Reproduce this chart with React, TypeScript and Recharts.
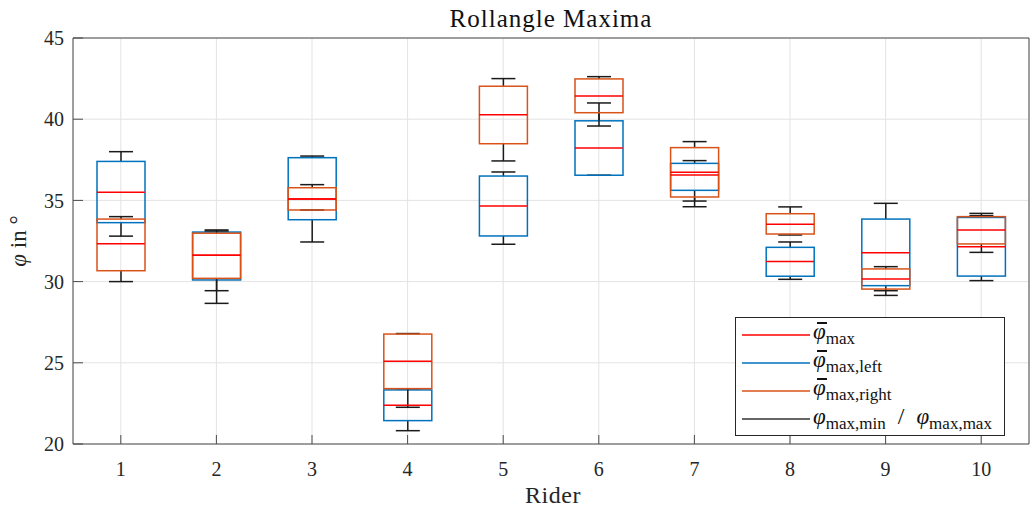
import React from 'react';
import { ComposedChart, Bar, Scatter, XAxis, YAxis, CartesianGrid, Legend } from 'recharts';

const riders = [1, 2, 3, 4, 5, 6, 7, 8, 9, 10];

// left side (blue boxes)
const leftMin = [32.8, 28.66, 32.44, 20.82, 32.3, 36.55, 34.96, 30.14, 29.44, 30.06];
const leftQ1 = [33.63, 30.1, 33.81, 21.44, 32.81, 36.55, 35.62, 30.33, 29.75, 30.34];
const leftMed = [35.5, 31.62, 35.09, 22.38, 34.66, 38.23, 36.56, 31.23, 31.78, 32.15];
const leftQ3 = [37.4, 33.05, 37.63, 23.33, 36.5, 39.9, 37.28, 32.11, 33.85, 33.95];
const leftMax = [38.0, 33.18, 37.73, 23.39, 36.75, 41.0, 37.45, 32.44, 34.82, 34.06];

// right side (orange boxes)
const rightMin = [30.0, 29.44, 34.41, 22.26, 37.43, 39.58, 34.61, 32.87, 29.15, 31.8];
const rightQ1 = [30.67, 30.2, 34.41, 23.41, 38.49, 40.4, 35.21, 32.93, 29.54, 32.32];
const rightMed = [32.33, 31.62, 35.09, 25.09, 40.28, 41.43, 36.73, 33.53, 30.16, 33.18];
const rightQ3 = [33.85, 32.98, 35.78, 26.77, 42.03, 42.48, 38.25, 34.18, 30.78, 34.0];
const rightMax = [34.0, 33.12, 35.97, 26.8, 42.5, 42.62, 38.62, 34.6, 30.92, 34.2];

const yTicks = [20, 25, 30, 35, 40, 45];

const data = riders.map((r, i) => ({
  rider: r,
  lLow: [leftMin[i], leftQ1[i]],
  lBox: [leftQ1[i], leftQ3[i]],
  lHigh: [leftQ3[i], leftMax[i]],
  lMed: leftMed[i],
  rLow: [rightMin[i], rightQ1[i]],
  rBox: [rightQ1[i], rightQ3[i]],
  rHigh: [rightQ3[i], rightMax[i]],
  rMed: rightMed[i],
}));

const BLUE = '#0072BD';
const ORANGE = '#D95319';
const RED = '#FF0000';
const WHISK = '#1a1a1a';
const AX = '#4a4a4a';
const FONT = 'Liberation Serif, DejaVu Serif, serif';

const boxShape = (color: string) => (props: any) => {
  const { x, y, width, height } = props;
  return <rect x={x} y={y} width={width} height={Math.max(height, 0)} fill="none" stroke={color} strokeWidth={1.5} />;
};

const lowWhisker = (props: any) => {
  const { x, y, width, height } = props;
  const cx = x + width / 2;
  const yb = y + height;
  return (
    <g stroke={WHISK} strokeWidth={1.5}>
      <line x1={cx} x2={cx} y1={y} y2={yb} />
      <line x1={cx - width / 4} x2={cx + width / 4} y1={yb} y2={yb} />
    </g>
  );
};

const highWhisker = (props: any) => {
  const { x, y, width, height } = props;
  const cx = x + width / 2;
  return (
    <g stroke={WHISK} strokeWidth={1.5}>
      <line x1={cx} x2={cx} y1={y} y2={y + height} />
      <line x1={cx - width / 4} x2={cx + width / 4} y1={y} y2={y} />
    </g>
  );
};

const medianShape = (props: any) => {
  const { cx, cy } = props;
  return <line x1={cx - 24} x2={cx + 24} y1={cy} y2={cy} stroke={RED} strokeWidth={1.5} />;
};

const sub = (t: string) => (
  <span style={{ fontSize: 17, position: 'relative', top: 5, fontStyle: 'normal' }}>{t}</span>
);

// phi with a bar on top
const phiBar = (
  <span style={{ position: 'relative', fontStyle: 'italic' }}>
    φ
    <span style={{ position: 'absolute', left: 4, top: 3, width: 10, height: 1.5, background: '#111' }} />
  </span>
);
const phi = <span style={{ fontStyle: 'italic' }}>φ</span>;

const legendRows = [
  { color: RED, label: <>{phiBar}{sub('max')}</> },
  { color: BLUE, label: <>{phiBar}{sub('max,left')}</> },
  { color: ORANGE, label: <>{phiBar}{sub('max,right')}</> },
  { color: '#333', label: <>{phi}{sub('max,min')}<span style={{ margin: '0 12px', fontSize: 24 }}>/</span>{phi}{sub('max,max')}</> },
];

const LegendBox = () => (
  <div style={{ border: '1px solid #262626', background: '#fff', padding: '3px 0 4px 0', boxSizing: 'border-box', width: 270, height: 119, fontFamily: FONT }}>
    {legendRows.map((row, i) => (
      <div key={i} style={{ display: 'flex', alignItems: 'center', height: 28 }}>
        <span style={{ marginLeft: 6, width: 68, height: 2, background: row.color, opacity: 0.75 }} />
        <span style={{ marginLeft: 3, fontSize: 23, color: '#111', lineHeight: '28px', whiteSpace: 'nowrap', position: 'relative', top: -2 }}>{row.label}</span>
      </div>
    ))}
  </div>
);

const App: React.FC = () => {
  return (
    <div style={{ position: 'absolute', left: 0, top: 0, background: '#fff' }}>
      <ComposedChart
        width={1033}
        height={508}
        data={data}
        margin={{ top: 37, right: 3, bottom: 0, left: 0 }}
        barSize={48}
        barGap={-48}
      >
        <CartesianGrid stroke="#e3e3e3" />
        <XAxis
          dataKey="rider"
          height={64}
          interval={0}
          tickSize={-9}
          tickMargin={27}
          axisLine={{ stroke: AX }}
          tickLine={{ stroke: AX }}
          tick={{ fill: '#262626', fontSize: 20, fontFamily: FONT }}
        />
        <XAxis xAxisId="top" dataKey="rider" orientation="top" height={1} interval={0} tickSize={-9} tick={false} axisLine={{ stroke: AX }} tickLine={{ stroke: AX }} />
        <YAxis
          type="number"
          domain={[20, 45]}
          ticks={yTicks}
          width={73}
          tickSize={-10}
          tickMargin={19}
          axisLine={{ stroke: AX }}
          tickLine={{ stroke: AX }}
          tick={{ fill: '#262626', fontSize: 20, fontFamily: FONT }}
        />
        <YAxis yAxisId="right" orientation="right" type="number" domain={[20, 45]} ticks={yTicks} width={1} tickSize={-10} tick={false} axisLine={{ stroke: AX }} tickLine={{ stroke: AX }} />

        <Bar dataKey="lLow" shape={lowWhisker} isAnimationActive={false} />
        <Bar dataKey="lHigh" shape={highWhisker} isAnimationActive={false} />
        <Bar dataKey="lBox" shape={boxShape(BLUE)} isAnimationActive={false} />
        <Scatter dataKey="lMed" shape={medianShape} isAnimationActive={false} />
        <Bar dataKey="rLow" shape={lowWhisker} isAnimationActive={false} />
        <Bar dataKey="rHigh" shape={highWhisker} isAnimationActive={false} />
        <Bar dataKey="rBox" shape={boxShape(ORANGE)} isAnimationActive={false} />
        <Scatter dataKey="rMed" shape={medianShape} isAnimationActive={false} />

        <Legend
          layout="horizontal"
          verticalAlign="middle"
          align="center"
          content={() => <LegendBox />}
          wrapperStyle={{ left: 735, top: 317, width: 270 }}
        />

        <text x={551} y={27} textAnchor="middle" fontFamily={FONT} fontSize={25} letterSpacing={1} fill="#111">Rollangle Maxima</text>
        <text x={553} y={503} textAnchor="middle" fontFamily={FONT} fontSize={24} letterSpacing={0.5} fill="#262626">Rider</text>
        <text transform="translate(26,241) rotate(-90)" textAnchor="middle" fontFamily={FONT} fontSize={23} fill="#262626">
          <tspan fontStyle="italic">φ</tspan> in °
        </text>
      </ComposedChart>
    </div>
  );
};

export default App;
